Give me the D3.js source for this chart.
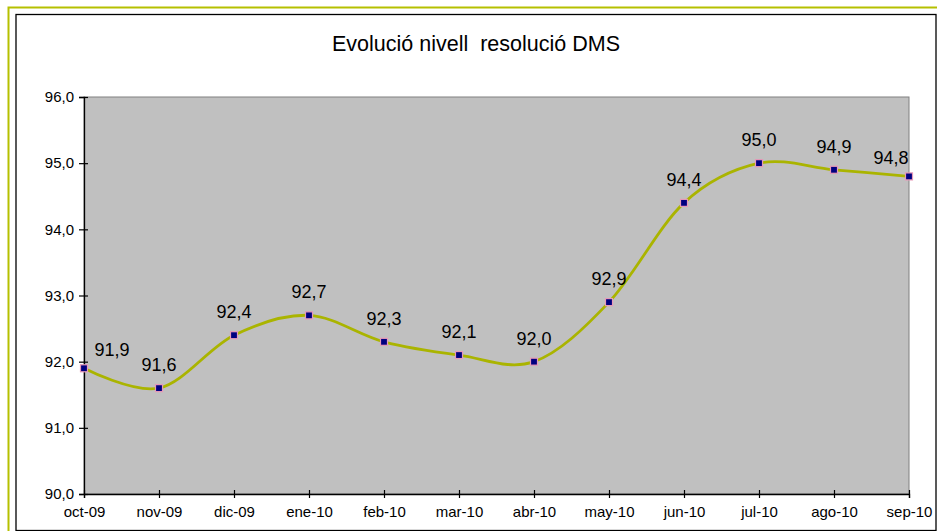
<!DOCTYPE html>
<html>
<head>
<meta charset="utf-8">
<script src="https://cdn.jsdelivr.net/npm/d3@7"></script>
<style>
  html, body { margin: 0; padding: 0; background: #ffffff; }
  svg { display: block; font-family: "Liberation Sans", Arial, sans-serif; }
</style>
</head>
<body>
<svg id="chart" width="937" height="531"></svg>
<script>
// Monthly DMS resolution level
const months = ["oct-09", "nov-09", "dic-09", "ene-10", "feb-10", "mar-10",
                "abr-10", "may-10", "jun-10", "jul-10", "ago-10", "sep-10"];
const resolution = [91.9, 91.6, 92.4, 92.7, 92.3, 92.1, 92.0, 92.9, 94.4, 95.0, 94.9, 94.8];
const yTicks = [90, 91, 92, 93, 94, 95, 96];
const chartTitle = "Evolució nivell  resolució DMS";

const svg = d3.select("#chart");
const W = 937, H = 531;
const plot = { left: 84, top: 97, right: 909, bottom: 494 };

const fmt = v => v.toFixed(1).replace(".", ",");

// Outer frame and chart-area frame
svg.append("rect").attr("x", 8.5).attr("y", 7.5).attr("width", W).attr("height", H)
  .attr("fill", "none").attr("stroke", "#b5c000").attr("stroke-width", 2);
svg.append("rect").attr("x", 16).attr("y", 14.5).attr("width", 920).attr("height", 516)
  .attr("fill", "#ffffff").attr("stroke", "#000000").attr("stroke-width", 1.3);

// Title
svg.append("text").attr("x", 476).attr("y", 51).attr("text-anchor", "middle")
  .attr("font-size", 21.5).attr("fill", "#000").style("white-space", "pre")
  .text(chartTitle);

const x = d3.scalePoint().domain(months).range([plot.left, plot.right]).padding(0);
const y = d3.scaleLinear().domain([90, 96]).range([plot.bottom, plot.top]);

// Plot background
svg.append("rect").attr("x", plot.left).attr("y", plot.top)
  .attr("width", plot.right - plot.left).attr("height", plot.bottom - plot.top)
  .attr("fill", "#c0c0c0").attr("stroke", "#808080").attr("stroke-width", 1);

// Axes
const yAxis = svg.append("g").attr("transform", `translate(${plot.left},0)`)
  .call(d3.axisLeft(y).tickValues(yTicks).tickFormat(fmt).tickSize(5).tickPadding(5));
const xAxis = svg.append("g").attr("transform", `translate(0,${plot.bottom})`)
  .call(d3.axisBottom(x).tickSize(4).tickPadding(8));

[yAxis, xAxis].forEach(g => {
  g.select(".domain").attr("stroke", "#000").attr("stroke-width", 1.3);
  g.selectAll(".tick line").attr("stroke", "#000").attr("stroke-width", 1.2);
  g.selectAll("text").attr("fill", "#000").attr("font-size", 15)
    .attr("font-family", "Liberation Sans, Arial, sans-serif");
});
// crossing ticks
yAxis.selectAll(".tick line").attr("x2", -5).attr("x1", 4);
xAxis.selectAll(".tick line").attr("y1", -4).attr("y2", 4);

// Smoothed line
const line = d3.line()
  .x((d, i) => x(months[i]))
  .y(d => y(d))
  .curve(d3.curveCardinal.tension(0));

svg.append("path").datum(resolution)
  .attr("d", line).attr("fill", "none")
  .attr("stroke", "#aab400").attr("stroke-width", 2.8);

// Markers
svg.selectAll("rect.mk").data(resolution).join("rect").attr("class", "mk")
  .attr("x", (d, i) => x(months[i]) - 3.5).attr("y", d => y(d) - 3.5)
  .attr("width", 7).attr("height", 7)
  .attr("fill", "#000080").attr("stroke", "#e89ab8").attr("stroke-width", 1.2);

// Value labels
const last = months.length - 1;
svg.selectAll("text.lbl").data(resolution).join("text").attr("class", "lbl")
  .attr("x", (d, i) => {
    const px = x(months[i]);
    if (i === 0) return px + 28;
    if (i === last) return px - 18;
    return px;
  })
  .attr("y", (d, i) => y(d) - (i === 0 || i === last ? 12 : 17))
  .attr("text-anchor", "middle").attr("font-size", 18).attr("fill", "#000")
  .text(fmt);
</script>
</body>
</html>
